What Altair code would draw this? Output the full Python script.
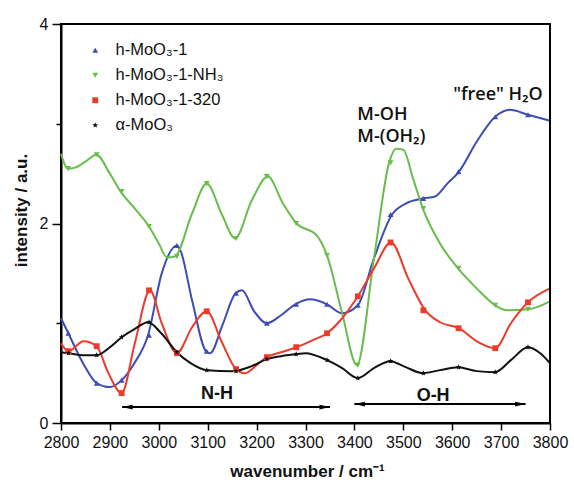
import altair as alt
import pandas as pd

# ---- series names (legend order) ----
SERIES = ["h-MoO₃-1", "h-MoO₃-1-NH₃", "h-MoO₃-1-320", "α-MoO₃"]
COLORS = ["#3c4db4", "#68bd4c", "#ec3b2b", "#111111"]

# ---- smoothed curve vertices (wavenumber, intensity) ----
BLUE_W = [2800, 2815, 2845, 2873, 2900, 2924, 2950, 2978, 3006, 3037, 3045, 3068, 3098, 3105,
          3130, 3157, 3170, 3195, 3221, 3250, 3279, 3310, 3344, 3375, 3407, 3440, 3477, 3505,
          3540, 3565, 3590, 3614, 3650, 3688, 3718, 3755, 3800]
BLUE_V = [1.05, 0.90, 0.60, 0.40, 0.36, 0.43, 0.60, 0.88, 1.50, 1.78, 1.72, 1.23, 0.71, 0.70,
          0.98, 1.30, 1.33, 1.12, 1.00, 1.08, 1.19, 1.24, 1.19, 1.10, 1.18, 1.65, 2.09, 2.20,
          2.25, 2.27, 2.40, 2.52, 2.82, 3.07, 3.14, 3.09, 3.03]

GREEN_W = [2800, 2814, 2829, 2850, 2872, 2900, 2922, 2951, 2980, 3000, 3017, 3033, 3068, 3098,
           3129, 3156, 3190, 3223, 3254, 3282, 3323, 3344, 3375, 3405, 3440, 3471, 3485, 3500,
           3520, 3540, 3575, 3612, 3650, 3688, 3712, 3755, 3800]
GREEN_V = [2.70, 2.55, 2.56, 2.62, 2.69, 2.50, 2.32, 2.15, 1.97, 1.80, 1.66, 1.67, 2.10, 2.40,
           2.09, 1.85, 2.23, 2.47, 2.20, 2.00, 1.88, 1.68, 1.10, 0.58, 1.65, 2.61, 2.75, 2.74,
           2.45, 2.15, 1.80, 1.55, 1.35, 1.18, 1.13, 1.14, 1.22]

RED_W = [2800, 2815, 2846, 2873, 2896, 2924, 2951, 2982, 3006, 3037, 3068, 3098, 3129, 3158,
         3176, 3200, 3221, 3250, 3282, 3315, 3344, 3375, 3407, 3440, 3475, 3510, 3545, 3575,
         3614, 3650, 3688, 3720, 3755, 3800]
RED_V = [0.80, 0.72, 0.82, 0.77, 0.51, 0.30, 0.80, 1.33, 1.00, 0.70, 0.96, 1.12, 0.81, 0.54,
         0.50, 0.58, 0.66, 0.71, 0.76, 0.83, 0.90, 1.05, 1.27, 1.55, 1.81, 1.45, 1.13, 1.01,
         0.95, 0.82, 0.75, 1.00, 1.21, 1.35]

BLACK_W = [2800, 2815, 2845, 2873, 2900, 2924, 2950, 2978, 3005, 3037, 3065, 3098, 3152, 3190,
           3221, 3250, 3282, 3300, 3344, 3375, 3407, 3440, 3473, 3505, 3540, 3575, 3612, 3650,
           3688, 3720, 3755, 3780, 3800]
BLACK_V = [0.71, 0.70, 0.68, 0.68, 0.76, 0.86, 0.94, 1.01, 0.90, 0.71, 0.60, 0.53, 0.52, 0.57,
           0.64, 0.67, 0.69, 0.70, 0.63, 0.55, 0.45, 0.55, 0.62, 0.56, 0.50, 0.53, 0.56, 0.52,
           0.51, 0.63, 0.76, 0.70, 0.60]

# ---- symbol positions ----
MARK_W = [2815, 2873, 2924, 2980, 3037, 3098, 3158, 3221, 3281, 3344, 3407, 3474, 3541, 3613,
          3688, 3755]
BLUE_M = [0.90, 0.40, 0.43, 0.88, 1.78, 0.72, 1.30, 1.00, 1.19, 1.19, 1.18, 2.09, 2.25, 2.52,
          3.07, 3.09]
GREEN_M = [2.55, 2.69, 2.32, 1.97, 1.67, 2.40, 1.85, 2.47, 2.00, 1.68, 0.58, 2.61, 2.15, 1.55,
           1.18, 1.14]
RED_M = [0.72, 0.77, 0.30, 1.33, 0.70, 1.12, 0.54, 0.66, 0.76, 0.90, 1.27, 1.81, 1.13, 0.95,
         0.75, 1.21]
BLACK_M = [0.70, 0.68, 0.86, 1.01, 0.71, 0.53, 0.52, 0.64, 0.69, 0.63, 0.45, 0.62, 0.50, 0.56,
           0.51, 0.76]

# ---- band annotations ----
ARROW_LABELS = ["N-H", "O-H"]
ARROW_START = [2925, 3400]
ARROW_END = [3350, 3750]
ARROW_Y = [0.16, 0.19]
ARROW_TEXT_W = [3119, 3561]
ARROW_TEXT_V = [0.29, 0.27]

NOTE_TEXT = ["M-OH", "M-(OH₂)", "\"free\" H₂O"]
NOTE_W = [3406, 3406, 3602]
NOTE_V = [3.09, 2.87, 3.29]

X_RANGE = [2800, 3800]
Y_RANGE = [0, 4]
X_TICKS = list(range(2800, 3801, 50))
Y_TICKS = [0, 1, 2, 3, 4]

STAR = ("M0,-1L0.265,-0.364L0.951,-0.309L0.428,0.139L0.588,0.809L0,0.45L-0.588,0.809"
        "L-0.428,0.139L-0.951,-0.309L-0.265,-0.364Z")
SHAPES = ["triangle-up", "triangle-down", "square", STAR]
SIZES = [34, 34, 70, 40]

# ---- tables ----
curves = [(BLUE_W, BLUE_V), (GREEN_W, GREEN_V), (RED_W, RED_V), (BLACK_W, BLACK_V)]

mark_rows = []
for name, vs in zip(SERIES, [BLUE_M, GREEN_M, RED_M, BLACK_M]):
    for w, v in zip(MARK_W, vs):
        mark_rows.append({"series": name, "w": w, "v": v})
marks_df = pd.DataFrame(mark_rows)

arrows_df = pd.DataFrame({"label": ARROW_LABELS, "x0": ARROW_START, "x1": ARROW_END,
                          "y": ARROW_Y, "tw": ARROW_TEXT_W, "tv": ARROW_TEXT_V})
notes_df = pd.DataFrame({"text": NOTE_TEXT, "w": NOTE_W, "v": NOTE_V})
frame_df = pd.DataFrame({"w0": [X_RANGE[0], X_RANGE[1]], "w1": [X_RANGE[1], X_RANGE[1]],
                         "v0": [Y_RANGE[1], Y_RANGE[0]], "v1": [Y_RANGE[1], Y_RANGE[1]]})

W, H = 489, 399
xscale = alt.Scale(domain=X_RANGE, nice=False, zero=False)
yscale = alt.Scale(domain=Y_RANGE, nice=False)
color_scale = alt.Scale(domain=SERIES, range=COLORS)

x_axis = alt.Axis(
    values=X_TICKS,
    labelExpr="datum.value % 100 ? '' : datum.label",
    format="d",
    labelFlush=False,
    tickSize={"condition": {"test": "datum.value % 100 !== 0", "value": 4}, "value": 7},
    title="wavenumber / cm⁻¹",
    titleX=246, titleY=48, titleBaseline="middle",
    grid=False,
)
y_axis = alt.Axis(
    values=Y_TICKS,
    format="d",
    labelFlush=False,
    labelExpr="datum.value % 2 ? '' : datum.label",
    tickSize={"condition": {"test": "datum.value % 2 !== 0", "value": 5}, "value": 9},
    title="intensity / a.u.",
    titleX=-40, titleY=186, titleBaseline="middle", titleAngle=-90,
    grid=False,
)

# one line layer per series, drawn in a fixed colour; the first carries the axes
line_layers = []
for k, (name, color, (ws, vs)) in enumerate(zip(SERIES, COLORS, curves)):
    df = pd.DataFrame({"w": ws, "v": vs})
    if k == 0:
        xenc = alt.X("w:Q", scale=xscale, axis=x_axis)
        yenc = alt.Y("v:Q", scale=yscale, axis=y_axis)
    else:
        xenc = alt.X("w:Q", scale=xscale)
        yenc = alt.Y("v:Q", scale=yscale)
    line_layers.append(
        alt.Chart(df).mark_line(interpolate="monotone", strokeWidth=2, color=color).encode(
            x=xenc, y=yenc
        )
    )

point_layer = alt.Chart(marks_df).mark_point(filled=True, opacity=1).encode(
    x=alt.X("w:Q", scale=xscale),
    y=alt.Y("v:Q", scale=yscale),
    color=alt.Color("series:N", scale=color_scale, legend=alt.Legend(
        title=None, orient="none", legendX=26, legendY=18,
        labelFont="Liberation Sans", labelFontSize=16.5, labelColor="#111",
        labelOffset=12, rowPadding=8, symbolSize=60, symbolStrokeWidth=0,
    )),
    shape=alt.Shape("series:N", scale=alt.Scale(domain=SERIES, range=SHAPES)),
    size=alt.Size("series:N", scale=alt.Scale(domain=SERIES, range=SIZES), legend=None),
)

arrow_rule = alt.Chart(arrows_df).mark_rule(color="black", strokeWidth=2).encode(
    x=alt.X("x0:Q", scale=xscale), x2="x1:Q", y=alt.Y("y:Q", scale=yscale),
)
LEFT_HEAD = "M0,0L2,-0.45L2,0.45Z"
RIGHT_HEAD = "M0,0L-2,-0.45L-2,0.45Z"
head_left = alt.Chart(arrows_df).mark_point(
    shape=LEFT_HEAD, filled=True, color="black", opacity=1, size=110
).encode(x=alt.X("x0:Q", scale=xscale), y=alt.Y("y:Q", scale=yscale))
head_right = alt.Chart(arrows_df).mark_point(
    shape=RIGHT_HEAD, filled=True, color="black", opacity=1, size=110
).encode(x=alt.X("x1:Q", scale=xscale), y=alt.Y("y:Q", scale=yscale))
arrow_text = alt.Chart(arrows_df).mark_text(
    font="Liberation Sans", fontSize=18, fontWeight="bold", color="#111", align="center",
    baseline="middle"
).encode(x=alt.X("tw:Q", scale=xscale), y=alt.Y("tv:Q", scale=yscale), text="label:N")

note_text = alt.Chart(notes_df).mark_text(
    font="Open Sans", fontSize=18, fontWeight=600, color="#111", align="left",
    baseline="middle"
).encode(x=alt.X("w:Q", scale=xscale), y=alt.Y("v:Q", scale=yscale), text="text:N")

# top and right edges of the plot frame, as segments between the axis range ends
frame = alt.Chart(frame_df).mark_rule(color="black", strokeWidth=2).encode(
    x=alt.X("w0:Q", scale=xscale), x2="w1:Q",
    y=alt.Y("v0:Q", scale=yscale), y2="v1:Q",
)

chart = alt.layer(
    *line_layers, point_layer, arrow_rule, head_left, head_right, arrow_text, note_text, frame
).properties(
    width=W, height=H,
    autosize=alt.AutoSizeParams(type="none"),
    padding={"left": 61, "top": 24, "right": 24, "bottom": 59},
    background="white",
).configure_view(
    stroke="black", strokeWidth=2
).configure_axis(
    domainColor="black", domainWidth=2, tickColor="black", tickWidth=1.5,
    labelFont="Liberation Sans", labelFontSize=16, labelColor="#111", labelPadding=4,
    titleFont="Liberation Sans", titleFontSize=17, titleFontWeight="bold", titleColor="#111",
)

chart.save("out.html", embed_options={"renderer": "svg", "actions": False})
